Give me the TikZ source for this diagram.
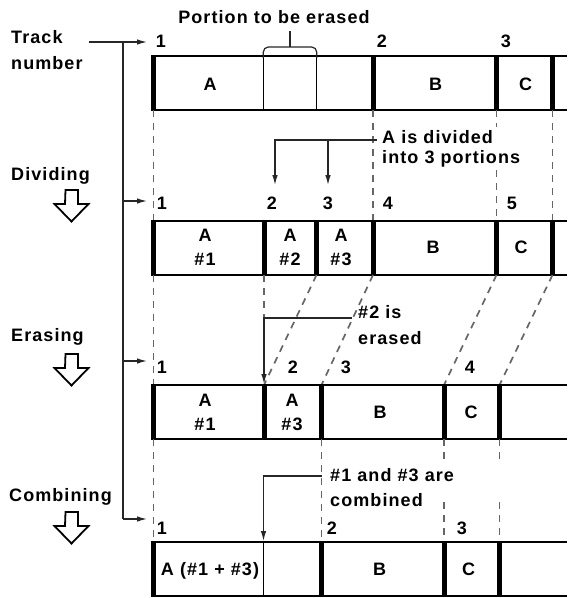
\documentclass[tikz,border=0pt]{standalone}
\usepackage{fontspec}
\setmainfont{Liberation Sans}[LetterSpace=6]
\usetikzlibrary{arrows.meta}
\newcommand{\hollowdn}[1]{\draw[hollow] (65.5,#1) -- ++(12.5,0) -- ++(0,14) -- ++(10.5,0) -- ++(-17,17.5) -- ++(-17,-17.5) -- ++(10.5,0) -- cycle;}
\begin{document}
\begin{tikzpicture}[x=1pt,y=-1pt,
  lbl/.style={font=\fontsize{18}{20}\selectfont\bfseries, inner sep=0pt, text height=13pt, text depth=0pt},
  rowline/.style={line width=1.5pt},
  bar/.style={line width=5pt},
  thinbar/.style={line width=1.3pt},
  guide/.style={line width=1.7pt, black!60, dash pattern=on 7pt off 6pt},
  conn/.style={line width=1.2pt, black!85},
  arr/.style={conn, -{Latex[length=10pt,width=5.5pt]}},
  hollow/.style={line width=1.8pt, line join=miter}
]
\useasboundingbox (0,0) rectangle (570,598);

% ---------- left labels ----------
\node[lbl, anchor=west] (track)  at (11,36.5) {Track};
\node[lbl, anchor=west] (number) at (11,62.5) {number};
\node[lbl, anchor=west] (divid)  at (11,173.5) {Dividing};
\node[lbl, anchor=west] (erasl)  at (11,335) {Erasing};
\node[lbl, anchor=west] (combl)  at (9,494.5) {Combining};
\hollowdn{190}
\hollowdn{354}
\hollowdn{512}

% ---------- track-number pointer ----------
\coordinate (tn0) at (89,42);
\coordinate (tv0) at (123,42);
\coordinate (tv1) at (123,201);
\coordinate (tv2) at (123,361);
\coordinate (tv3) at (123,519);
\coordinate (tr0) at (147,42);
\coordinate (tr1) at (147,201);
\coordinate (tr2) at (147,361);
\coordinate (tr3) at (147,519);
\draw[arr] (tn0) -- (tr0);
\draw[conn] (tv0) -- (tv3);
\draw[arr] (tv1) -- (tr1);
\draw[arr] (tv2) -- (tr2);
\draw[arr] (tv3) -- (tr3);

% ---------- row 1 ----------
\draw[rowline] (151,56) -- (567,56) (151,110) -- (567,110);
\draw[bar] (153.5,56) -- (153.5,110);
\draw[thinbar] (263.3,56) -- (263.3,110);
\draw[thinbar] (316.7,56) -- (316.7,110);
\draw[bar] (373,56) -- (373,110);
\draw[bar] (496.5,56) -- (496.5,110);
\draw[bar] (552.5,56) -- (552.5,110);
\node[lbl] (r1a) at (210,84) {A};
\node[lbl] (r1b) at (435.5,84) {B};
\node[lbl] (r1c) at (525.5,84) {C};
\node[lbl] (n11) at (161,41) {1};
\node[lbl] (n12) at (382,41) {2};
\node[lbl] (n13) at (506,41) {3};
% brace
\node[lbl] (portion) at (274,16.5) {Portion to be erased};
\draw[conn, rounded corners=5pt] (263.3,58) -- (263.3,47) -- (316.7,47) -- (316.7,58);
\draw[conn] (290,47) -- (290,31);

% guides row1 -> row2
\draw[guide] (153.5,110) -- (153.5,221);
\draw[guide] (373,110) -- (373,221);
\draw[guide] (496.5,110) -- (496.5,127);
\draw[guide] (496.5,170) -- (496.5,221);
\draw[guide] (552.5,110) -- (552.5,221);

% annotation: divided
\node[lbl, anchor=west] (div1) at (382,136.5) {A is divided};
\node[lbl, anchor=west] (div2) at (382,157) {into 3 portions};
\coordinate (da0) at (377,140);
\coordinate (da1) at (275,185);
\coordinate (db0) at (328,140);
\coordinate (db1) at (328,185);
\draw[arr] (da0) -| (da1);
\draw[arr] (db0) -- (db1);

% ---------- row 2 ----------
\draw[rowline] (151,221) -- (567,221) (151,275) -- (567,275);
\draw[bar] (153.5,221) -- (153.5,275);
\draw[bar] (264,221) -- (264,275);
\draw[bar] (316.5,221) -- (316.5,275);
\draw[bar] (373,221) -- (373,275);
\draw[bar] (496.5,221) -- (496.5,275);
\draw[bar] (552.5,221) -- (552.5,275);
\node[lbl] (r2a1) at (205,235) {A};
\node[lbl] (r2h1) at (205,259) {\#1};
\node[lbl] (r2a2) at (290,235) {A};
\node[lbl] (r2h2) at (290,259) {\#2};
\node[lbl] (r2a3) at (341,235) {A};
\node[lbl] (r2h3) at (341,259) {\#3};
\node[lbl] (r2b) at (433,247) {B};
\node[lbl] (r2c) at (521,247) {C};
\node[lbl] (n21) at (162,203) {1};
\node[lbl] (n22) at (272,203) {2};
\node[lbl] (n23) at (328,203) {3};
\node[lbl] (n24) at (388,203) {4};
\node[lbl] (n25) at (512,203) {5};

% guides row2 -> row3
\draw[guide] (153.5,275) -- (153.5,385);
\draw[guide] (264,275) -- (264,318);
\draw[guide] (316.5,275) -- (264,385);
\draw[guide] (373,275) -- (321.5,385);
\draw[guide] (496.5,275) -- (444,385);
\draw[guide] (552.5,275) -- (499.5,385);

% annotation: erased
\node[lbl, anchor=west] (er1) at (358,311.5) {\#2 is};
\node[lbl, anchor=west] (er2) at (358,337.5) {erased};
\coordinate (ea0) at (352,318);
\coordinate (ea1) at (264,384);
\draw[arr] (ea0) -| (ea1);

% ---------- row 3 ----------
\draw[rowline] (151,385) -- (567,385) (151,439) -- (567,439);
\draw[bar] (153.5,385) -- (153.5,439);
\draw[bar] (264,385) -- (264,439);
\draw[bar] (321.5,385) -- (321.5,439);
\draw[bar] (444,385) -- (444,439);
\draw[bar] (499.5,385) -- (499.5,439);
\node[lbl] (r3a1) at (205,400) {A};
\node[lbl] (r3h1) at (205,424) {\#1};
\node[lbl] (r3a3) at (292,400) {A};
\node[lbl] (r3h3) at (292,424) {\#3};
\node[lbl] (r3b) at (380,412) {B};
\node[lbl] (r3c) at (471,412) {C};
\node[lbl] (n31) at (162,367) {1};
\node[lbl] (n32) at (293,367) {2};
\node[lbl] (n33) at (346,367) {3};
\node[lbl] (n34) at (470,367) {4};

% guides row3 -> row4
\draw[guide] (153.5,439) -- (153.5,542);
\draw[guide] (321.5,439) -- (321.5,542);
\draw[guide] (444,439) -- (444,462);
\draw[guide] (444,502) -- (444,542);
\draw[guide] (499.5,439) -- (499.5,462);
\draw[guide] (499.5,502) -- (499.5,542);

% annotation: combined
\node[lbl, anchor=west] (cb1) at (330,474.5) {\#1 and \#3 are};
\node[lbl, anchor=west] (cb2) at (330,499.5) {combined};
\coordinate (ca0) at (321.5,476);
\coordinate (ca1) at (263.5,541);
\draw[arr] (ca0) -| (ca1);

% ---------- row 4 ----------
\draw[rowline] (151,542) -- (567,542) (151,596) -- (567,596);
\draw[bar] (153.5,542) -- (153.5,596);
\draw[thinbar] (263.5,542) -- (263.5,596);
\draw[bar] (321.5,542) -- (321.5,596);
\draw[bar] (444,542) -- (444,596);
\draw[bar] (499.5,542) -- (499.5,596);
\node[lbl] (r4a) at (210,569) {A (\#1 + \#3)};
\node[lbl] (r4b) at (379.5,569) {B};
\node[lbl] (r4c) at (468.5,569) {C};
\node[lbl] (n41) at (162,528) {1};
\node[lbl] (n42) at (332,528) {2};
\node[lbl] (n43) at (462,528) {3};
\end{tikzpicture}
\end{document}
